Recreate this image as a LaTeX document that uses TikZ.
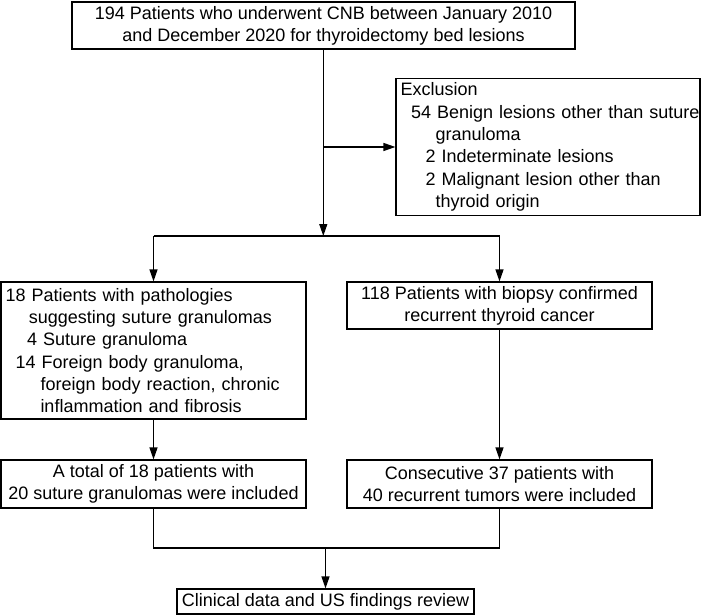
\documentclass[tikz,border=0pt]{standalone}
\usepackage{fontspec}
\setmainfont{Liberation Sans}
\usetikzlibrary{arrows.meta}
\begin{document}
\begin{tikzpicture}[x=1pt,y=-1pt,
  box/.style={draw, line width=1.2pt, inner ysep=0pt, font=\fontsize{18}{22.3}\selectfont},
  cbox/.style={box, align=center, inner xsep=4pt},
  lbox/.style={box, align=left, inner xsep=4.5pt},
  arr/.style={line width=1.2pt, -{Triangle[length=12pt,width=8pt]}},
  ln/.style={line width=1.2pt}]
\useasboundingbox (0,0) rectangle (702,615);

\node[cbox, minimum width=503pt, minimum height=47pt] (top) at (323.5,25.5)
  {194 Patients who underwent CNB between January 2010\\and December 2020 for thyroidectomy bed lesions};

\node[lbox, minimum width=304pt, minimum height=137pt, text width=295pt] (excl) at (548,147)
  {\mbox{Exclusion}\\
   \mbox{\hspace*{10.7pt}54 Benign lesions other than suture}\\
   \mbox{\hspace*{35pt}granuloma}\\
   \mbox{\hspace*{25pt}2 Indeterminate lesions}\\
   \mbox{\hspace*{25pt}2 Malignant lesion other than}\\
   \mbox{\hspace*{35pt}thyroid origin}};

\node[lbox, minimum width=305pt, minimum height=137pt, text width=296pt] (left) at (153.5,350.5)
  {\mbox{18 Patients with pathologies}\\
   \mbox{\hspace*{23.3pt}suggesting suture granulomas}\\
   \mbox{\hspace*{21.6pt}4 Suture granuloma}\\
   \mbox{\hspace*{10pt}14 Foreign body granuloma,}\\
   \mbox{\hspace*{35pt}foreign body reaction, chronic}\\
   \mbox{\hspace*{35pt}inflammation and fibrosis}};

\node[cbox, minimum width=305pt, minimum height=47pt] (right) at (499.5,305.5)
  {118 Patients with biopsy confirmed\\recurrent thyroid cancer};

\node[cbox, minimum width=305pt, minimum height=48pt] (bl) at (153.5,484)
  {A total of 18 patients with\\20 suture granulomas were included};

\node[cbox, minimum width=305pt, minimum height=48pt] (br) at (499.5,484)
  {Consecutive 37 patients with\\40 recurrent tumors were included};

\node[cbox, minimum width=297pt, minimum height=25pt] (final) at (325.5,601.5)
  {Clinical data and US findings review};

% connectors
\coordinate (split) at (323.3,236);
\coordinate (exo) at (323.3,147);
\coordinate (sl) at (left.north |- split);
\coordinate (sr) at (right.north |- split);
\coordinate (jl) at (153.5,548);
\coordinate (jr) at (499.5,548);
\coordinate (jm) at (final.north |- jl);

\draw[arr] (top.south -| split) -- (split);
\draw[arr] (exo) -- (excl.west |- exo);
\draw[ln] (sl) -- (sr);
\draw[arr] (sl) -- (left.north);
\draw[arr] (sr) -- (right.north);
\draw[arr] (left.south) -- (bl.north);
\draw[arr] (right.south) -- (br.north);
\draw[ln] (bl.south) -- (jl) -- (jr) -- (br.south);
\draw[arr] (jm) -- (final.north);
\end{tikzpicture}
\end{document}
